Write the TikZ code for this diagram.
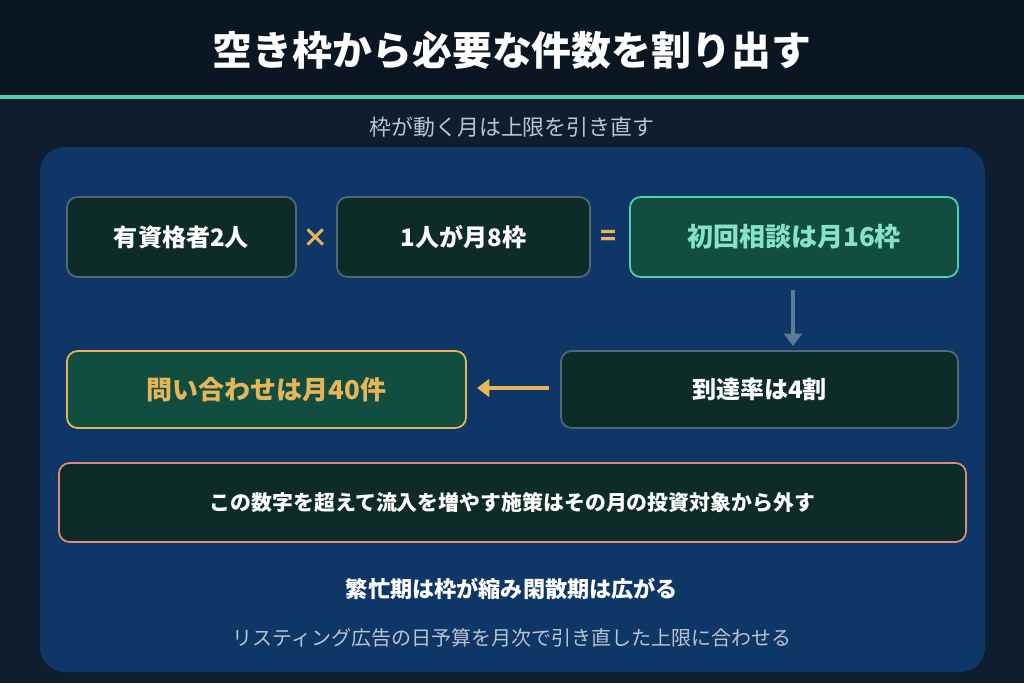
\documentclass[tikz,border=0pt]{standalone}
\usepackage{fontspec}
\setmainfont{Noto Sans CJK JP}
\usepackage{tikz}
\usetikzlibrary{arrows.meta, positioning}
\definecolor{bgtop}{HTML}{0B1623}
\definecolor{bgmain}{HTML}{0F1E2F}
\definecolor{panel}{HTML}{0E3666}
\definecolor{boxdark}{HTML}{0D2B27}
\definecolor{boxgreen}{HTML}{124E40}
\definecolor{edgegrey}{HTML}{51677A}
\definecolor{teal}{HTML}{4FD1B0}
\definecolor{tealtext}{HTML}{86E3C6}
\definecolor{gold}{HTML}{E6B55A}
\definecolor{salmon}{HTML}{D98D7A}
\definecolor{subgrey}{HTML}{B8C4D2}
\definecolor{arrowgrey}{HTML}{5C7B99}
\tikzset{
    base/.style={draw=edgegrey, line width=1pt, rounded corners=6pt, font=\bfseries\fontsize{13.7}{16}\selectfont, text=white, align=center, inner sep=0pt},
    block/.style={base, fill=boxdark},
    blockgreen/.style={base, fill=boxgreen, font=\bfseries\fontsize{14.8}{17}\selectfont},
    line/.style={line width=2.5pt, -{Triangle[length=7pt, width=10pt]}},
    op/.style={font=\bfseries\fontsize{15}{17}\selectfont, text=gold}
}
\begin{document}
\begin{tikzpicture}[x=0.02cm, y=-0.02cm]
    \useasboundingbox (0,0) rectangle (1024,683);
    \fill [bgmain] (0,0) rectangle (1024,683);
    \fill [bgtop] (0,0) rectangle (1024,95);
    \fill [teal] (0,95) rectangle (1024,99);
    \node [font=\bfseries\fontsize{22.7}{25}\selectfont, text=white] (Title) at (512,50) {空き枠から必要な件数を割り出す};
    \node [font=\fontsize{12.5}{14}\selectfont, text=subgrey] (Sub) at (512,127) {枠が動く月は上限を引き直す};
    \fill [panel, rounded corners=14pt] (40,147) rectangle (985,672);

    \node [block, minimum width=229*0.02cm, minimum height=80*0.02cm] (Staff) at (181.5,237) {有資格者2人};
    \node [op] (Times) at (316,238) {×};
    \node [block, minimum width=253*0.02cm, minimum height=80*0.02cm] (Slots) at (463.5,237) {1人が月8枠};
    \node [op] (Equals) at (609,238) {=};
    \node [blockgreen, draw=teal, text=tealtext, minimum width=328*0.02cm, minimum height=80*0.02cm] (First) at (794,237) {初回相談は月16枠};
    \node [block, minimum width=397*0.02cm, minimum height=77*0.02cm] (Rate) at (759.5,389.5) {到達率は4割};
    \node [blockgreen, draw=gold, text=gold, minimum width=399*0.02cm, minimum height=77*0.02cm] (Inquiry) at (266.5,389.5) {問い合わせは月40件};
    \node [block, draw=salmon, font=\bfseries\fontsize{11.9}{14}\selectfont, minimum width=907*0.02cm, minimum height=79*0.02cm] (Limit) at (512.5,502.5) {この数字を超えて流入を増やす施策はその月の投資対象から外す};

    \node [font=\bfseries\fontsize{12.6}{15}\selectfont, text=white] (Season) at (512,589) {繁忙期は枠が縮み閑散期は広がる};
    \node [font=\fontsize{11.4}{13}\selectfont, text=subgrey] (Ads) at (512,638) {リスティング広告の日予算を月次で引き直した上限に合わせる};

    \coordinate (DownS) at (793,290);
    \coordinate (DownE) at (793,346);
    \coordinate (LeftS) at (549,388);
    \coordinate (LeftE) at (477,388);
    \draw [line, arrowgrey] (DownS) -- (DownE);
    \draw [line, gold] (LeftS) -- (LeftE);
\end{tikzpicture}
\end{document}
